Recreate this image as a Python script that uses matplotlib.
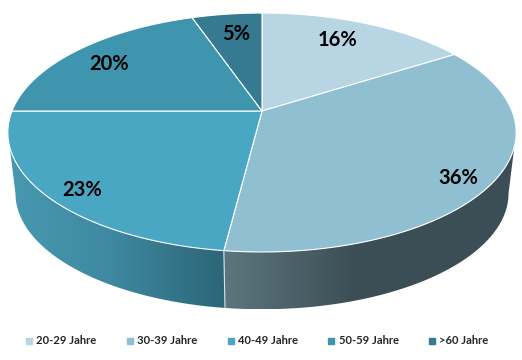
import numpy as np
import matplotlib
matplotlib.use("Agg")
import matplotlib.pyplot as plt
from matplotlib.colors import LinearSegmentedColormap
from matplotlib.lines import Line2D
from matplotlib.patches import Polygon

categories = ["20-29 Jahre", "30-39 Jahre", "40-49 Jahre", "50-59 Jahre", ">60 Jahre"]
shares = [16, 36, 23, 19.7, 5.3]
share_labels = ["16%", "36%", "23%", "20%", "5%"]

colors = ["#b7d5e2", "#90bfd2", "#49a7c3", "#3f94ae", "#357a90"]
label_pos = [(338, 40.5), (458, 177.5), (82, 189.5), (109, 64.5), (236, 33.5)]

plt.rcParams["font.family"] = ["Lato", "DejaVu Sans"]
plt.rcParams["font.weight"] = "bold"

# pie centre and the tilt of the disc, in pixels of the picture
CX, CY = 262, 111
RX, RY, TILT = 250, 115.6, 0.18
DEPTH, SHRINK = 61.5, 0.97


def rim(theta, r=1.0, lower=False):
    # theta in radians, clockwise from the top of the pie
    u, v = r * np.sin(theta), r * np.cos(theta)
    d = 1 + TILT * v
    x, y = RX * u / d, -RY * v / d
    if lower:
        return CX + SHRINK * x, CY + DEPTH + SHRINK * y
    return CX + x, CY + y


def wall(ax, t0, t1, stops):
    t = np.linspace(t0, t1, 200)
    xt, yt = rim(t)
    xb, yb = rim(t, lower=True)
    pts = np.r_[np.c_[xt, yt], np.c_[xb, yb][::-1]]
    poly = Polygon(pts, closed=True, fc="none", ec="none")
    ax.add_patch(poly)
    cmap = LinearSegmentedColormap.from_list("w", stops)
    x0, x1 = pts[:, 0].min(), pts[:, 0].max()
    y0, y1 = pts[:, 1].min(), pts[:, 1].max()
    # stops run left to right across the wall
    im = ax.imshow(np.linspace(0, 1, 256)[None, :], cmap=cmap, aspect="auto",
                   extent=(x0, x1, y1, y0), zorder=1)
    im.set_clip_path(poly)
    return t


fig = plt.figure(figsize=(5.22, 3.60), dpi=100)
ax = fig.add_axes([0, 0, 1, 1])

edges = 2 * np.pi * np.cumsum([0] + shares) / sum(shares)
side = np.arccos(-TILT)  # where the rim turns back, right side

# the two walls that are visible
wall(ax, side, edges[2], [(0, "#5c767e"), (0.45, "#3c4e55"), (1, "#3c4e55")])
wall(ax, edges[2], 2 * np.pi - side, [(0, "#4898b1"), (0.45, "#3f8aa2"), (1, "#2c6577")])

xa, ya = rim(edges[2])
xb, yb = rim(edges[2], lower=True)
ax.plot([xa, xb], [ya, yb], color="#d8e2e6", lw=0.8, zorder=2)

for i, c in enumerate(colors):
    t = np.linspace(edges[i], edges[i + 1], 150)
    x, y = rim(t)
    pts = np.r_[[[CX, CY]], np.c_[x, y]]
    ax.add_patch(Polygon(pts, closed=True, fc=c, ec="white", lw=0.8, zorder=3))

for text, (x, y) in zip(share_labels, label_pos):
    ax.text(x, y, text, ha="center", va="center", fontsize=14.5,
            fontweight="bold", color="black", zorder=4)

handles = [Line2D([], [], ls="none", marker="s", ms=3.8, mfc=c, mec=c) for c in colors]
ax.legend(handles, categories, loc="center", bbox_to_anchor=(257 / 522, 1 - 341 / 360),
          ncol=5, frameon=False, fontsize=8.1, handlelength=0.6, handletextpad=0.35,
          columnspacing=2.67, borderpad=0, labelcolor="#262626")

ax.set_xlim(0, 522)
ax.set_ylim(360, 0)
ax.axis("off")

fig.savefig("out.png", dpi=100)
plt.close(fig)
